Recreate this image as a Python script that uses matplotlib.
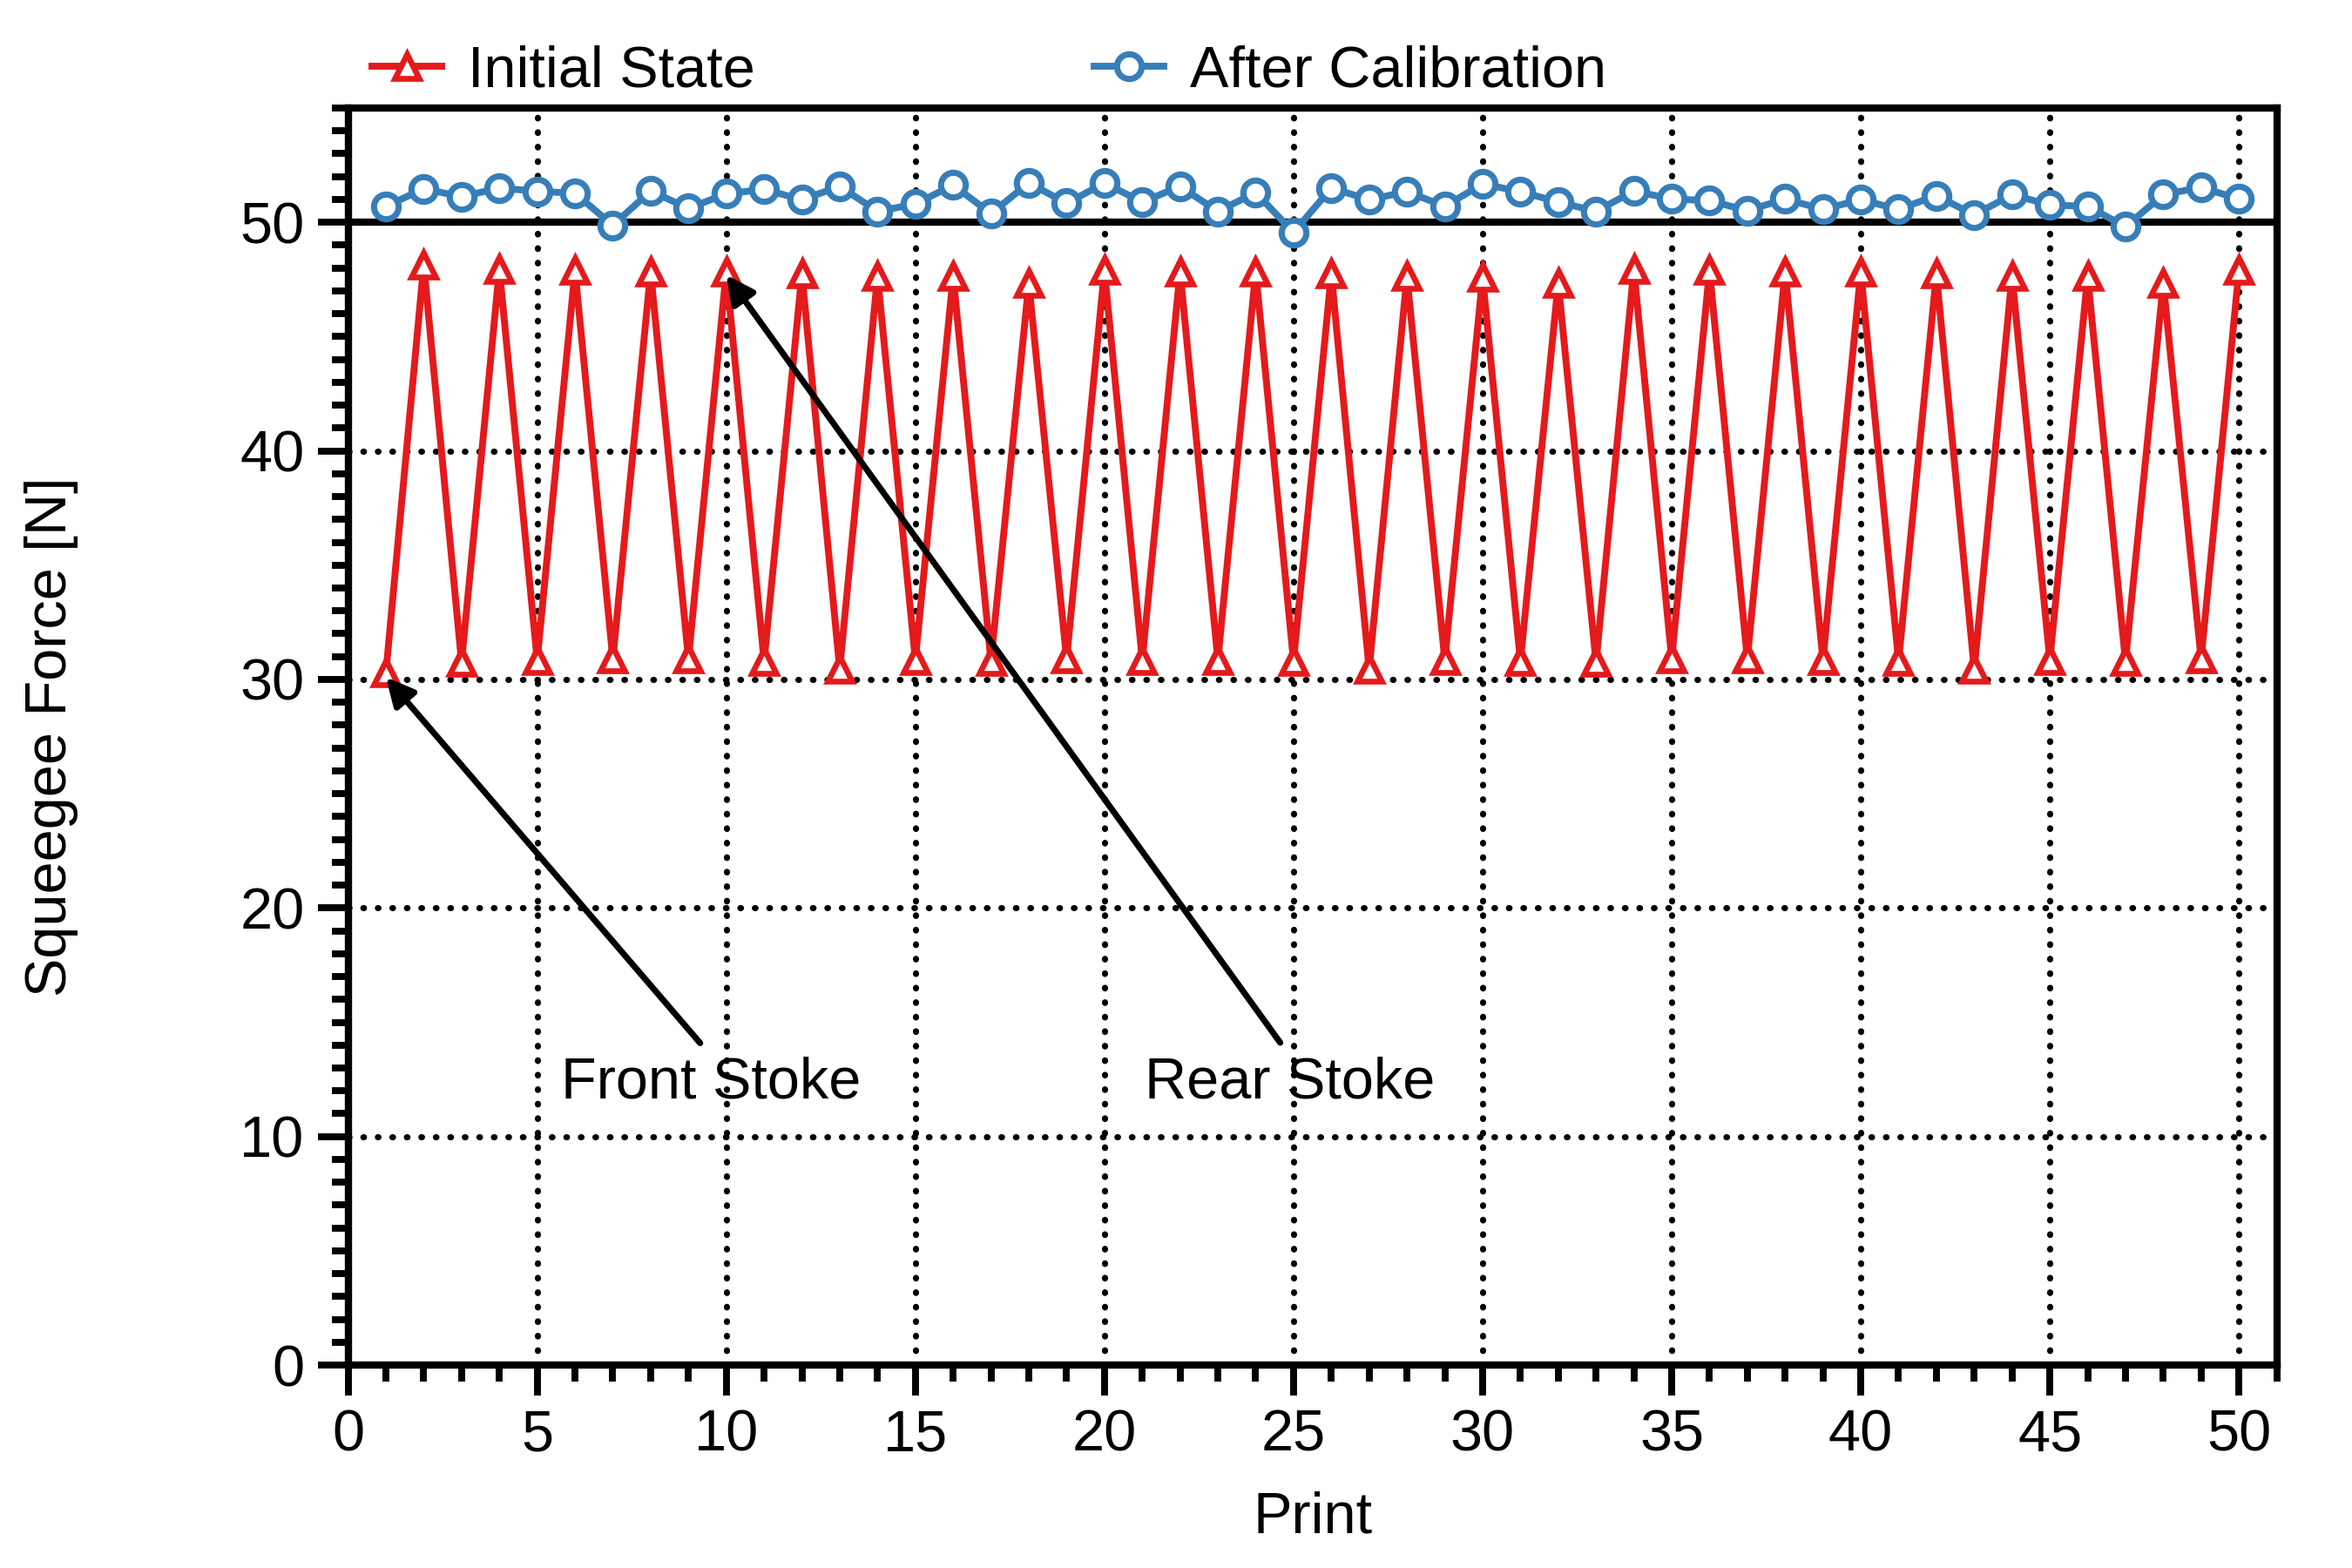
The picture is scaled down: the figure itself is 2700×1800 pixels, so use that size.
"""Squeegee force per print: initial state vs. after calibration."""

import matplotlib
matplotlib.use("Agg")
import matplotlib.pyplot as plt
from matplotlib.ticker import MultipleLocator

plt.rcParams["font.family"] = ["Liberation Sans", "DejaVu Sans"]
plt.rcParams["font.size"] = 16

# --- data ---
prints = list(range(1, 51))

initial_state = [
    30.3, 48.15, 30.75, 47.95, 30.85, 47.9, 30.9, 47.85, 30.9, 47.85,
    30.8, 47.75, 30.45, 47.65, 30.85, 47.65, 30.8, 47.35, 30.9, 47.9,
    30.85, 47.85, 30.85, 47.85, 30.8, 47.75, 30.45, 47.65, 30.85, 47.6,
    30.8, 47.35, 30.75, 47.95, 30.9, 47.9, 30.9, 47.85, 30.85, 47.85,
    30.8, 47.75, 30.45, 47.65, 30.85, 47.65, 30.8, 47.35, 30.9, 47.9,
]

after_calibration = [
    50.7, 51.47, 51.12, 51.5, 51.36, 51.27, 49.87, 51.37, 50.61, 51.25,
    51.44, 50.99, 51.57, 50.48, 50.8, 51.63, 50.38, 51.73, 50.83, 51.72,
    50.89, 51.57, 50.48, 51.3, 49.56, 51.5, 50.99, 51.34, 50.7, 51.68,
    51.34, 50.89, 50.48, 51.37, 51.02, 50.95, 50.51, 51.02, 50.57, 50.99,
    50.57, 51.17, 50.32, 51.21, 50.76, 50.7, 49.81, 51.21, 51.53, 51.02,
]

reference_force = 50

# annotation: (label, point it marks, text position)
annotations = [
    ("Front Stoke", (1, 30.1), (9.6, 12.35)),
    ("Rear Stoke", (10, 47.7), (24.9, 12.35)),
]

RED = "#e41a1c"
BLUE = "#377eb8"


def build_figure():
    fig = plt.figure(figsize=(9, 6), dpi=300)
    ax = fig.add_axes([0.148, 0.1294, 0.82, 0.8017])

    ax.plot(prints, initial_state, color=RED, lw=1.9, marker="^",
            ms=6.5, mew=1.6, mfc="white", mec=RED, label="Initial State",
            zorder=3)
    ax.plot(prints, after_calibration, color=BLUE, lw=1.9, marker="o",
            ms=6.8, mew=1.7, mfc="white", mec=BLUE, label="After Calibration",
            zorder=4)

    # solid reference line at 50 N
    ax.axhline(reference_force, color="black", lw=2, zorder=2)

    ax.set_xlim(0, 51)
    ax.set_ylim(0, 55)
    ax.xaxis.set_major_locator(MultipleLocator(5))
    ax.xaxis.set_minor_locator(MultipleLocator(1))
    ax.yaxis.set_major_locator(MultipleLocator(10))
    ax.yaxis.set_minor_locator(MultipleLocator(1))

    ax.tick_params(which="both", direction="out", width=1.9, top=False,
                   right=False)
    ax.tick_params(which="major", length=8.5, pad=3.5, labelsize=16)
    ax.tick_params(which="minor", length=4.5)
    for sp in ax.spines.values():
        sp.set_linewidth(2)

    ax.set_axisbelow(True)
    ax.grid(True, which="major", color="black", lw=1.7,
            linestyle=(0, (0.1, 2.25)), dash_capstyle="round")

    ax.set_xlabel("Print", fontsize=16)
    ax.set_ylabel("Squeegee Force [N]", fontsize=16)
    ax.xaxis.set_label_coords(0.5, -0.1)
    ax.yaxis.set_label_coords(-0.140, 0.5)

    for label, xy, xytext in annotations:
        ax.annotate(label, xy=xy, xytext=xytext, ha="center", va="center",
                    fontsize=16,
                    arrowprops=dict(arrowstyle="-|>", color="black", lw=1.7,
                                    mutation_scale=16, shrinkA=2, shrinkB=0,
                                    relpos=(0.5, 1.0)))

    fig.legend(loc="center left", bbox_to_anchor=(0.158, 0.954), ncol=2,
               frameon=False, fontsize=16, handlelength=1.2,
               handletextpad=0.45, columnspacing=5.85, borderpad=0,
               borderaxespad=0)
    return fig


def main():
    fig = build_figure()
    fig.savefig("out.png", dpi=300)
    plt.close(fig)


if __name__ == "__main__":
    main()
